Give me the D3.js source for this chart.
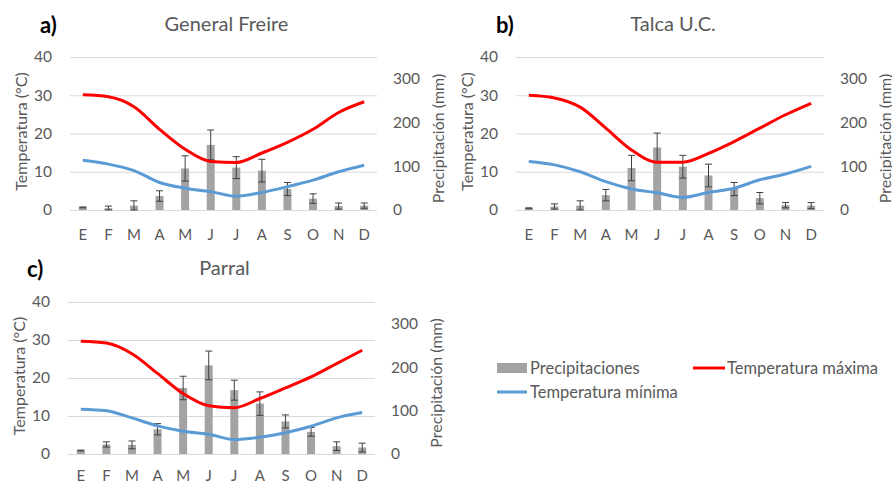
<!DOCTYPE html>
<html>
<head>
<meta charset="utf-8">
<script src="https://cdn.jsdelivr.net/npm/d3@7"></script>
<style>
  html, body { margin: 0; padding: 0; background: #ffffff; }
  svg { display: block; font-family: Lato, "Open Sans", sans-serif; }
</style>
</head>
<body>
<svg id="chart" width="892" height="485"></svg>
<script>
// ---------- DATA ----------
const months = ["E","F","M","A","M","J","J","A","S","O","N","D"];
const tempTicks = [0, 10, 20, 30, 40];
const precTicks = [0, 100, 200, 300];

// a) General Freire
const tmaxA = [30.1, 29.6, 27.0, 21.1, 15.9, 12.7, 12.4, 14.9, 17.7, 21.1, 25.5, 28.3];
const tminA = [13.0, 12.0, 10.3, 7.2, 5.7, 4.8, 3.6, 4.6, 6.1, 7.8, 10.0, 11.7];
const precA = [6, 4, 10, 32, 95, 149, 97, 90, 48, 26, 9, 10];
const errA  = [1, 5, 11, 12, 29, 34, 25, 26, 15, 11, 7, 6];

// b) Talca U.C.
const tmaxB = [30.0, 29.3, 26.9, 21.4, 15.7, 12.5, 12.5, 14.8, 17.9, 21.4, 24.9, 27.9];
const tminB = [12.7, 11.8, 10.0, 7.4, 5.5, 4.5, 3.3, 4.6, 5.7, 7.9, 9.4, 11.4];
const precB = [4, 8, 10, 34, 96, 143, 99, 79, 48, 27, 11, 10];
const errB  = [1, 6, 11, 13, 29, 33, 26, 26, 15, 13, 6, 7];

// c) Parral
const tmaxC = [29.7, 29.2, 26.4, 21.2, 15.9, 12.7, 12.2, 14.6, 17.4, 20.3, 23.8, 27.3];
const tminC = [11.8, 11.4, 9.5, 7.4, 6.0, 5.2, 3.8, 4.4, 5.6, 7.3, 9.5, 10.9];
const precC = [8, 22, 21, 57, 152, 204, 147, 116, 75, 51, 18, 15];
const errC  = [1, 6, 9, 13, 27, 33, 23, 27, 15, 10, 10, 10];

const stations = [
  { label: "a)", title: "General Freire", tmax: tmaxA, tmin: tminA, prec: precA, err: errA },
  { label: "b)", title: "Talca U.C.",     tmax: tmaxB, tmin: tminB, prec: precB, err: errB },
  { label: "c)", title: "Parral",         tmax: tmaxC, tmin: tminC, prec: precC, err: errC }
];

const legendItems = ["Precipitaciones", "Temperatura máxima", "Temperatura mínima"];

// ---------- LAYOUT ----------
const layouts = [
  { x0: 70,  x1: 377, y0: 57,  y1: 210, labelX: 40,  titleY: 24,  xPad: 19 },
  { x0: 516, x1: 824, y0: 57,  y1: 210, labelX: 496, titleY: 24,  xPad: 19 },
  { x0: 68,  x1: 375, y0: 302, y1: 454, labelX: 27,  titleY: 268, xPad: 16 }
];

const TEXT = "#595959";
const GRID = "#d9d9d9";
const BAR = "#a3a3a3";
const ERR = "#404040";
const RED = "#ff0000";
const BLUE = "#5b9bd5";
const FONT = "Lato, 'Open Sans', sans-serif";

const svg = d3.select("#chart");

stations.forEach((st, k) => {
  const L = layouts[k];
  const g = svg.append("g");
  const x = d3.scaleBand().domain(d3.range(months.length)).range([L.x0, L.x1]);
  const yT = d3.scaleLinear().domain([0, 40]).range([L.y1, L.y0]);
  const yP = d3.scaleLinear().domain([0, 350]).range([L.y1, L.y0]);
  const cx = i => x(i) + x.bandwidth() / 2;

  // gridlines
  const grid = g.append("g").attr("transform", `translate(${L.x0},0)`)
    .call(d3.axisLeft(yT).tickValues(tempTicks).tickSize(-(L.x1 - L.x0)).tickFormat(""));
  grid.select(".domain").remove();
  grid.selectAll("line").attr("stroke", GRID).attr("stroke-width", 1);

  // left axis
  const la = g.append("g").attr("transform", `translate(${L.x0},0)`)
    .call(d3.axisLeft(yT).tickValues(tempTicks).tickSize(0).tickPadding(18));
  la.select(".domain").remove();
  la.selectAll("text").attr("fill", TEXT).style("font-size", "15.5px").style("font-family", FONT);

  // right axis
  const ra = g.append("g").attr("transform", `translate(${L.x1},0)`)
    .call(d3.axisRight(yP).tickValues(precTicks).tickSize(0).tickPadding(16));
  ra.select(".domain").remove();
  ra.selectAll("text").attr("fill", TEXT).style("font-size", "15.5px").style("font-family", FONT);

  // bottom axis
  const ba = g.append("g").attr("transform", `translate(0,${L.y1})`)
    .call(d3.axisBottom(x).tickFormat(i => months[i]).tickSize(0).tickPadding(L.xPad));
  ba.select(".domain").remove();
  ba.selectAll("text").attr("fill", TEXT).style("font-size", "15px").style("font-family", FONT);

  // bars
  const bw = 8;
  g.append("g").selectAll("rect").data(st.prec).join("rect")
    .attr("x", (d, i) => cx(i) - bw / 2)
    .attr("width", bw)
    .attr("y", d => yP(d))
    .attr("height", d => yP(0) - yP(d))
    .attr("fill", BAR);

  // error bars
  const eg = g.append("g").attr("stroke", ERR).attr("stroke-width", 1);
  st.prec.forEach((v, i) => {
    const lo = yP(Math.max(0, v - st.err[i]));
    const hi = yP(v + st.err[i]);
    const c = cx(i);
    eg.append("line").attr("x1", c).attr("x2", c).attr("y1", lo).attr("y2", hi);
    eg.append("line").attr("x1", c - 3.5).attr("x2", c + 3.5).attr("y1", hi).attr("y2", hi);
    eg.append("line").attr("x1", c - 3.5).attr("x2", c + 3.5).attr("y1", lo).attr("y2", lo);
  });

  // lines
  const line = d3.line().x((d, i) => cx(i)).y(d => yT(d)).curve(d3.curveMonotoneX);
  g.append("path").datum(st.tmin).attr("d", line).attr("fill", "none")
    .attr("stroke", BLUE).attr("stroke-width", 3).attr("stroke-linejoin", "round");
  g.append("path").datum(st.tmax).attr("d", line).attr("fill", "none")
    .attr("stroke", RED).attr("stroke-width", 3).attr("stroke-linejoin", "round");

  // axis titles
  const midY = (L.y0 + L.y1) / 2;
  g.append("text")
    .attr("transform", `translate(${L.x0 - 50},${midY - 2}) rotate(-90)`)
    .attr("text-anchor", "middle").attr("dominant-baseline", "central")
    .attr("fill", TEXT).style("font-size", "16px")
    .text("Temperatura (°C)");
  g.append("text")
    .attr("transform", `translate(${L.x1 + 60},${midY + 5}) rotate(-90)`)
    .attr("text-anchor", "middle").attr("dominant-baseline", "central")
    .attr("fill", TEXT).style("font-size", "16px")
    .text("Precipitación (mm)");

  // panel label and title
  g.append("text").attr("x", L.labelX).attr("y", L.titleY)
    .attr("dominant-baseline", "central")
    .attr("fill", "#000").style("font-size", "22px").style("font-weight", "bold")
    .text(st.label);
  g.append("text").attr("x", (L.x0 + L.x1) / 2 + 3).attr("y", L.titleY - 1)
    .attr("text-anchor", "middle").attr("dominant-baseline", "central")
    .attr("fill", TEXT).style("font-size", "20px")
    .text(st.title);
});

// legend
const lg = svg.append("g").style("font-size", "16.5px");
lg.append("rect").attr("x", 497).attr("y", 363).attr("width", 30).attr("height", 10).attr("fill", BAR);
lg.append("text").attr("x", 530).attr("y", 368).attr("dominant-baseline", "central").attr("fill", TEXT).text(legendItems[0]);
lg.append("line").attr("x1", 693).attr("x2", 725).attr("y1", 368).attr("y2", 368).attr("stroke", RED).attr("stroke-width", 3);
lg.append("text").attr("x", 727).attr("y", 368).attr("dominant-baseline", "central").attr("fill", TEXT).text(legendItems[1]);
lg.append("line").attr("x1", 497).attr("x2", 527).attr("y1", 392).attr("y2", 392).attr("stroke", BLUE).attr("stroke-width", 3);
lg.append("text").attr("x", 530).attr("y", 392).attr("dominant-baseline", "central").attr("fill", TEXT).text(legendItems[2]);
</script>
</body>
</html>
